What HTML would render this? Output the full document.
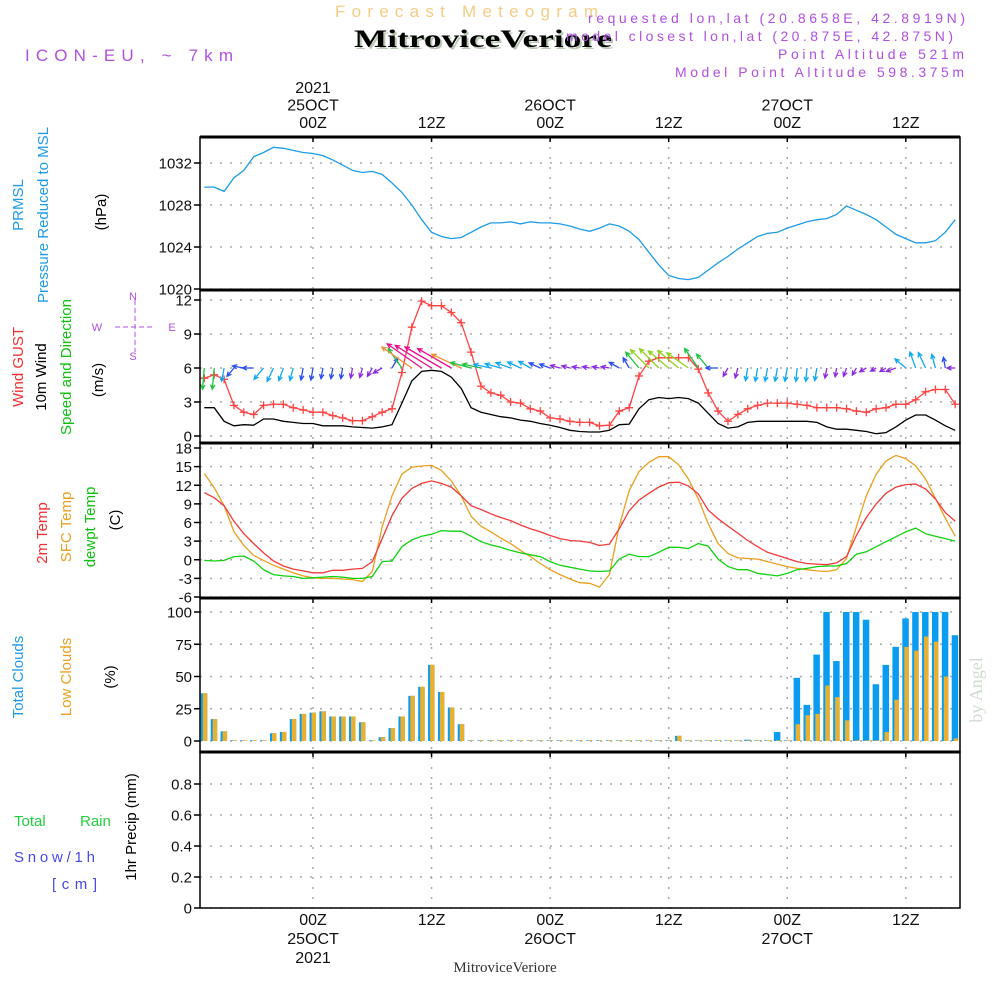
<!DOCTYPE html>
<html><head><meta charset="utf-8"><style>
html,body{margin:0;padding:0;background:#fff;}
svg{display:block;font-family:"Liberation Sans",sans-serif;}
</style></head><body>
<svg id="chart" width="1000" height="1000" viewBox="0 0 1000 1000" xmlns="http://www.w3.org/2000/svg">
<rect x="0" y="0" width="1000" height="1000" fill="#fff"/>
<text x="335" y="17" textLength="263" font-size="17" fill="#f5cc85">Forecast Meteogram</text>
<text x="356" y="49" textLength="258" lengthAdjust="spacingAndGlyphs" font-family="Liberation Serif,serif" font-weight="bold" font-size="25" fill="#b8c8b4">MitroviceVeriore</text>
<text x="354" y="47" textLength="258" lengthAdjust="spacingAndGlyphs" font-family="Liberation Serif,serif" font-weight="bold" font-size="25" fill="#000">MitroviceVeriore</text>
<g fill="#b050e0" font-size="14">
<text x="588" y="23" textLength="377">requested lon,lat (20.8658E, 42.8919N)</text>
<text x="566" y="41" textLength="387">model closest lon,lat (20.875E, 42.875N)</text>
<text x="778" y="59" textLength="186">Point Altitude 521m</text>
<text x="675" y="77" textLength="289">Model Point Altitude 598.375m</text>
</g>
<text x="25" y="61" textLength="208" font-size="17" fill="#b050e0">ICON-EU, ~ 7km</text>
<g id="grid"></g>
<g id="marks"></g>
<g id="frame"></g>
<g id="labels" font-size="15" fill="#111"></g>
<g font-size="15">
<text transform="translate(23,205) rotate(-90)" text-anchor="middle" fill="#1e9be8">PRMSL</text>
<text transform="translate(48,215) rotate(-90)" text-anchor="middle" fill="#1e9be8">Pressure  Reduced to MSL</text>
<text transform="translate(106,212) rotate(-90)" text-anchor="middle" fill="#000">(hPa)</text>
<text transform="translate(23,367) rotate(-90)" text-anchor="middle" fill="#f03030">Wind GUST</text>
<text transform="translate(46,377) rotate(-90)" text-anchor="middle" fill="#000">10m Wind</text>
<text transform="translate(71,367) rotate(-90)" text-anchor="middle" fill="#10c010">Speed and Direction</text>
<text transform="translate(103,380) rotate(-90)" text-anchor="middle" fill="#000">(m/s)</text>
<text transform="translate(47,533) rotate(-90)" text-anchor="middle" fill="#f03030">2m Temp</text>
<text transform="translate(71,527) rotate(-90)" text-anchor="middle" fill="#e8a020">SFC Temp</text>
<text transform="translate(95,527) rotate(-90)" text-anchor="middle" fill="#10c010">dewpt Temp</text>
<text transform="translate(120,520) rotate(-90)" text-anchor="middle" fill="#000">(C)</text>
<text transform="translate(23,677) rotate(-90)" text-anchor="middle" fill="#1e9be8">Total Clouds</text>
<text transform="translate(71,677) rotate(-90)" text-anchor="middle" fill="#e8a020">Low Clouds</text>
<text transform="translate(115,677) rotate(-90)" text-anchor="middle" fill="#000">(%)</text>
<text transform="translate(136,827) rotate(-90)" text-anchor="middle" fill="#000">1hr Precip (mm)</text>
<text x="14" y="826" fill="#20d040">Total</text>
<text x="80" y="826" fill="#20d040">Rain</text>
<text x="14" y="862" fill="#4848f0" textLength="81">Snow/1h</text>
<text x="52" y="889" fill="#4848f0" textLength="45">[cm]</text>
</g>
<g fill="#b050e0" stroke="#b050e0" font-size="11">
<line x1="115" y1="327" x2="155" y2="327" stroke-dasharray="5,3"/>
<line x1="135" y1="300" x2="135" y2="352" stroke-dasharray="5,3"/>
<text x="133" y="300" text-anchor="middle" stroke="none">N</text>
<text x="133" y="360" text-anchor="middle" stroke="none">S</text>
<text x="97" y="331" text-anchor="middle" stroke="none">W</text>
<text x="172" y="331" text-anchor="middle" stroke="none">E</text>
</g>
<text transform="translate(982,690) rotate(-90)" text-anchor="middle" font-family="Liberation Serif,serif" font-size="18" fill="#d0dcd0">by Angel</text>
<text x="505" y="972" text-anchor="middle" font-family="Liberation Serif,serif" font-size="15" fill="#333">MitroviceVeriore</text>
</svg>
<script>
const hours = [];
for (let h = -11; h <= 65; h++) hours.push(h);
const pressure = [1029.7,1029.7,1029.3,1030.6,1031.3,1032.6,1033.0,1033.5,1033.4,1033.2,1033.0,1032.9,1032.7,1032.3,1031.8,1031.3,1031.1,1031.2,1030.9,1030.1,1029.2,1028.0,1026.6,1025.4,1025.0,1024.8,1024.9,1025.4,1025.9,1026.3,1026.3,1026.4,1026.2,1026.4,1026.3,1026.3,1026.2,1026.0,1025.7,1025.5,1025.8,1026.2,1026.0,1025.5,1024.7,1023.5,1022.3,1021.3,1021.0,1020.9,1021.1,1021.8,1022.5,1023.1,1023.8,1024.4,1025.0,1025.3,1025.4,1025.8,1026.1,1026.4,1026.6,1026.7,1027.1,1027.9,1027.5,1027.1,1026.6,1025.9,1025.2,1024.8,1024.4,1024.4,1024.6,1025.4,1026.6];
const gust = [5.1,5.4,5.0,2.7,2.1,1.9,2.7,2.8,2.8,2.5,2.3,2.1,2.1,1.8,1.6,1.35,1.35,1.7,2.1,2.4,5.6,9.6,11.9,11.5,11.5,10.9,10.0,7.4,4.4,3.8,3.6,3.0,2.9,2.4,2.2,1.6,1.5,1.3,1.2,1.2,0.9,0.95,2.2,2.5,5.3,6.6,6.9,6.9,6.9,6.9,5.9,3.8,2.2,1.3,1.9,2.4,2.7,2.9,2.9,2.9,2.8,2.7,2.5,2.5,2.5,2.4,2.2,2.1,2.4,2.5,2.8,2.8,3.2,3.9,4.1,4.1,2.8];
const wind10 = [2.5,2.5,1.3,0.9,1.0,0.95,1.5,1.5,1.3,1.2,1.1,1.1,0.9,0.9,0.9,0.8,0.75,0.7,0.8,1.0,2.9,4.85,5.7,5.8,5.7,5.2,4.2,2.5,2.1,1.9,1.7,1.6,1.4,1.3,1.1,0.95,0.75,0.5,0.4,0.35,0.35,0.5,1.0,1.05,2.4,3.2,3.4,3.3,3.4,3.3,2.9,2.0,1.1,0.7,0.8,1.2,1.3,1.3,1.3,1.3,1.3,1.3,1.2,0.8,0.6,0.6,0.5,0.4,0.2,0.3,0.8,1.4,1.85,1.85,1.4,0.9,0.5];
const windAngle = [-95,-95,-100,-130,170,180,-130,-115,-110,-105,-100,-100,-100,-100,-100,-100,-105,-120,-150,60,125,145,145,148,150,150,155,165,168,168,165,160,155,150,155,160,165,165,170,170,170,170,150,120,130,135,135,140,140,145,125,130,180,-120,-105,-100,-100,-100,-100,-100,-95,-95,-100,-100,-100,-110,-120,-150,-150,-150,-160,140,110,115,105,100,180];
const temp2m = [10.8,10.0,8.7,6.2,4.2,2.6,1.1,-0.2,-1.0,-1.5,-1.8,-2.1,-2.1,-1.7,-1.7,-1.5,-1.4,-0.3,3.4,7.1,9.9,11.5,12.3,12.7,12.3,11.7,10.3,8.7,8.1,7.4,6.8,6.3,5.6,5.0,4.5,3.9,3.4,3.1,3.0,2.8,2.3,2.5,5.0,7.9,9.6,10.7,11.7,12.4,12.5,11.9,10.6,8.0,6.6,5.4,4.3,3.1,2.1,1.2,0.7,0.2,-0.3,-0.6,-0.7,-0.8,-0.5,0.5,3.9,6.8,9.0,10.7,11.7,12.1,12.2,11.4,9.8,7.6,6.2];
const tempSfc = [13.9,11.6,8.7,4.5,2.3,0.7,-0.1,-0.9,-1.5,-2.1,-2.6,-2.9,-3.0,-3.0,-3.1,-3.2,-3.5,-1.9,5.3,10.3,13.8,14.9,15.1,15.2,14.4,12.7,10.3,7.0,5.4,4.5,3.5,2.6,1.5,0.5,-0.6,-1.6,-2.4,-3.1,-3.7,-3.8,-4.4,-2.4,5.5,11.1,14.2,15.7,16.6,16.6,15.3,13.0,9.8,5.8,2.6,1.0,0.3,0.2,0.1,-0.3,-0.7,-1.1,-1.4,-1.6,-1.8,-1.9,-1.6,0.2,5.3,10.3,13.8,15.9,16.8,16.3,15.1,13.0,9.9,6.7,3.8];
const dewpt = [-0.1,-0.2,-0.1,0.5,0.6,-0.2,-1.6,-2.4,-2.6,-2.7,-3.0,-2.9,-2.8,-2.7,-2.8,-3.0,-3.0,-2.7,-0.3,-0.2,2.1,3.2,3.8,4.1,4.7,4.6,4.6,3.8,2.9,2.4,2.0,1.5,1.1,0.8,0.5,-0.3,-0.9,-1.2,-1.5,-1.8,-1.9,-1.8,0.1,0.9,0.5,0.5,1.2,2.0,2.0,1.8,2.6,2.2,0.1,-1.1,-1.6,-1.6,-2.2,-2.4,-2.6,-2.2,-1.6,-1.4,-1.1,-1.0,-1.0,-0.6,0.9,1.3,2.1,2.9,3.7,4.5,5.1,4.2,3.8,3.4,3.0];
const totalClouds = [37,17,7.5,0.5,0.5,0.5,0.5,6,7,17,21,22,23,19,19,19,14.5,0.5,3,10,19,35,42,59,38,26,13,0.5,0.5,0.5,0.5,0.5,0.5,0.5,0.5,0.5,0.5,0.5,0.5,0.5,0.5,0.5,0.5,0.5,0.5,0.5,0.5,0.5,4,0.5,0.5,0.5,0.5,0.5,0.5,1,0.5,0.5,7,0.5,49,28,67,100,62,100,100,94,44,59,73,95,100,100,100,100,82];
const lowClouds = [37,17,7.5,0.5,0.5,0.5,0.5,6,7,17,21,22,23,19,19,19,14.5,0.5,3,10,19,35,42,59,38,26,13,0.5,0.5,0.5,0.5,0.5,0.5,0.5,0.5,0.5,0.5,0.5,0.5,0.5,0.5,0.5,0.5,0.5,0.5,0.5,0.5,0.5,4,0.5,0.5,0.5,0.5,0.5,0.5,0.5,0.5,0.5,0.5,0.5,13,20,21,43,34,16,0.5,0.5,0.5,7,32,73,70,81,77,50,2];
const precip = hours.map(() => 0);
const pTicks = [1020,1024,1028,1032];
const wTicks = [0,3,6,9,12];
const tTicks = [-6,-3,0,3,6,9,12,15,18];
const cTicks = [0,25,50,75,100];
const rTicks = [0,0.2,0.4,0.6,0.8];
const timeTicks = [0,12,24,36,48,60];
const topLabels = [["2021","25OCT","00Z"],["","","12Z"],["","26OCT","00Z"],["","","12Z"],["","27OCT","00Z"],["","","12Z"]];
const bottomLabels = [["00Z","25OCT","2021"],["12Z","",""],["00Z","26OCT",""],["12Z","",""],["00Z","27OCT",""],["12Z","",""]];

const NS = "http://www.w3.org/2000/svg";
const X0 = 200, X1 = 960;
const xS = h => 313 + h * 9.88;
const lin = (v0, y0, v1, y1) => v => y0 + (v - v0) * (y1 - y0) / (v1 - v0);
const yP = lin(1020, 289, 1032, 163);
const yW = lin(0, 436, 12, 300);
const yT = lin(-6, 597, 18, 448);
const yC = lin(0, 741, 100, 612);
const yR = lin(0, 908, 0.8, 784);
const panels = [[137,290],[290,443],[443,598],[598,752],[752,908]];
function mk(tag, attrs, parent) {
  const e = document.createElementNS(NS, tag);
  for (const k in attrs) e.setAttribute(k, attrs[k]);
  parent.appendChild(e);
  return e;
}
const grid = document.getElementById('grid');
const marks = document.getElementById('marks');
const frame = document.getElementById('frame');
const labels = document.getElementById('labels');

function yAxis(ticks, ys, fmt, name) {
  ticks.forEach(t => {
    const y = ys(t);
    const g = mk('line', {x1: X0, x2: X1, y1: y, y2: y, stroke: '#aaa', 'stroke-width': 1.5, 'stroke-dasharray': '2,8'}, grid);
    
    
    const tk = mk('line', {x1: X0 - 6, x2: X0, y1: y, y2: y, stroke: '#000', 'stroke-width': 1.5}, frame);
    
    
    const tx = mk('text', {x: X0 - 8, y: y + 5.5, 'text-anchor': 'end'}, labels);
    
    
    tx.textContent = fmt(t);
  });
}
yAxis(pTicks, yP, t => t, 'pressure');
yAxis(wTicks, yW, t => t, 'wind');
yAxis(tTicks, yT, t => t, 'temp');
yAxis(cTicks, yC, t => t, 'cloud');
yAxis(rTicks, yR, t => t === 0 ? '0' : t.toFixed(1), 'precip');

timeTicks.forEach((h, i) => {
  const x = xS(h);
  const v = mk('line', {x1: x, x2: x, y1: 137, y2: 908, stroke: '#aaa', 'stroke-width': 1.5, 'stroke-dasharray': '2,8'}, grid);
  
  
  panels.forEach(p => {
    const t1 = mk('line', {x1: x, x2: x, y1: p[0], y2: p[0] + 5, stroke: '#000', 'stroke-width': 1.5}, frame);
    
    
  });
  topLabels[i].forEach((s, j) => {
    if (!s) return;
    const t = mk('text', {x: x, y: 93 + j * 17.5, 'text-anchor': 'middle', 'font-size': 16}, labels);
    
    
    t.textContent = s;
  });
  bottomLabels[i].forEach((s, j) => {
    if (!s) return;
    const t = mk('text', {x: x, y: 925 + j * 19, 'text-anchor': 'middle', 'font-size': 16}, labels);
    
    
    t.textContent = s;
  });
});

function line(vals, ys, color, name, w) {
  const d = vals.map((v, i) => (i ? 'L' : 'M') + xS(hours[i]).toFixed(1) + ',' + ys(v).toFixed(1)).join('');
  const p = mk('path', {d: d, fill: 'none', stroke: color, 'stroke-width': w || 1.3}, marks);
  
  
}
const clip = mk('clipPath', {id: 'pclip'}, document.getElementById('chart'));
mk('rect', {x: X0, y: 137, width: X1 - X0, height: 771}, clip);
marks.setAttribute('clip-path', 'url(#pclip)');

line(pressure, yP, '#1e9be8', 'pressure-line', 1.3);

hours.forEach((h, i) => {
  const x = xS(h);
  const b = mk('rect', {x: x - 3.5, y: yC(totalClouds[i]), width: 6.5, height: yC(0) - yC(totalClouds[i]), fill: '#0a9cf0'}, marks);
  
  
  const o = mk('rect', {x: x - 1.5, y: yC(lowClouds[i]), width: 4.5, height: yC(0) - yC(lowClouds[i]), fill: '#e8b030'}, marks);
  
  
});

hours.forEach((h, i) => {
  if (precip[i] <= 0) return;
  const r = mk('rect', {x: xS(h) - 3, y: yR(precip[i]), width: 6, height: yR(0) - yR(precip[i]), fill: '#20d040'}, marks);
  
  
});

line(tempSfc, yT, '#e8a020', 'sfc-temp-line');
line(temp2m, yT, '#f03a3a', 'temp-2m-line');
line(dewpt, yT, '#10d010', 'dewpoint-line');

line(wind10, yW, '#000', 'wind-10m-line', 1.3);
line(gust, yW, '#ff4444', 'gust-line', 1.3);
hours.forEach((h, i) => {
  const x = xS(h), y = yW(gust[i]);
  const c = mk('path', {d: `M${x-4},${y}H${x+4}M${x},${y-4}V${y+4}`, stroke: '#ff4444', 'stroke-width': 1.3}, marks);
  
  
});
function arrowColor(s) {
  if (s < 0.85) return '#8a2be2';
  if (s < 1.2) return '#2a4ef0';
  if (s < 2) return '#10a8f0';
  if (s < 3) return '#20c040';
  if (s < 3.45) return '#90d020';
  if (s < 5) return '#f09030';
  return '#e8108a';
}
hours.forEach((h, i) => {
  const x0 = xS(h), y0 = yW(6);
  const s = wind10[i];
  const len = 5 + s * 6.5;
  const a = windAngle[i] * Math.PI / 180;
  const x1 = x0 + len * Math.cos(a), y1 = y0 - len * Math.sin(a);
  const hl = 5;
  const l1 = a + Math.PI - 0.45, l2 = a + Math.PI + 0.45;
  const d = `M${x0.toFixed(1)},${y0.toFixed(1)}L${x1.toFixed(1)},${y1.toFixed(1)}M${(x1 + hl*Math.cos(l1)).toFixed(1)},${(y1 - hl*Math.sin(l1)).toFixed(1)}L${x1.toFixed(1)},${y1.toFixed(1)}L${(x1 + hl*Math.cos(l2)).toFixed(1)},${(y1 - hl*Math.sin(l2)).toFixed(1)}`;
  const p = mk('path', {d: d, fill: 'none', stroke: arrowColor(s), 'stroke-width': 1.3}, marks);
  
  
});

panels.forEach(p => {
  const r = mk('rect', {x: X0, y: p[0], width: X1 - X0, height: p[1] - p[0], fill: 'none', stroke: '#000', 'stroke-width': 1.5}, frame);
  
  
  const sep = mk('line', {x1: X0, x2: X1, y1: p[0], y2: p[0], stroke: '#000', 'stroke-width': 3}, frame);
  
  
});
</script>
</body></html>
